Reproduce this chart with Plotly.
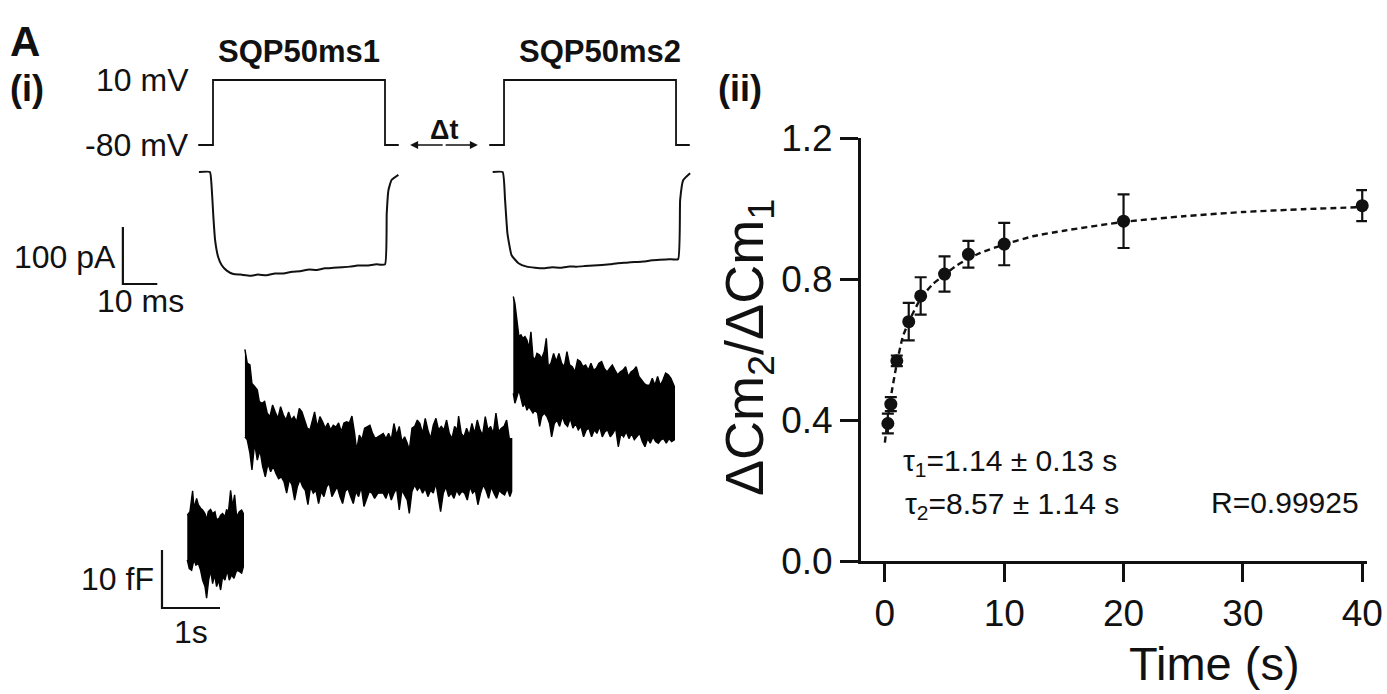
import plotly.graph_objects as go

# ---------------- DATA ----------------
# Panel (ii): recovery of exocytosis
REC_T_S = [0.25, 0.5, 1, 2, 3, 5, 7, 10, 20, 40]
REC_RATIO = [0.39, 0.445, 0.568, 0.679, 0.752, 0.814, 0.870, 0.899, 0.964, 1.008]
REC_SEM = [0.028, 0.02, 0.015, 0.053, 0.053, 0.05, 0.038, 0.06, 0.076, 0.044]
FIT_T_S = [0, 0.25, 0.5, 1, 1.5, 2, 3, 4, 5, 6, 7, 8, 10, 12.5, 15, 20, 25, 30, 35, 40]
FIT_RATIO = [0.336, 0.405, 0.465, 0.56, 0.636, 0.678, 0.745, 0.785, 0.812, 0.838, 0.858,
             0.874, 0.898, 0.922, 0.937, 0.962, 0.978, 0.99, 0.998, 1.004]
X_TICKS = [0, 10, 20, 30, 40]
Y_TICKS = [0.0, 0.4, 0.8, 1.2]
Y_TICK_TEXT = ["0.0", "0.4", "0.8", "1.2"]

# Panel (i): voltage protocol (one 50 ms square pulse)
V_T_MS = [-4.3, 0, 0, 50, 50, 54]
V_MV = [-80, -80, 10, 10, -80, -80]

# Ca2+ current during pulse 1 and pulse 2
I1_T_MS = [-4.1, -0.9, -0.4, 0.1, 0.6, 1.5, 2.5, 4.0, 5.9, 8.0, 10.8, 13.0, 15.6, 18.0, 20.4,
           23.0, 25.3, 28.0, 30.1, 32.5, 35.0, 37.5, 39.8, 42.0, 44.7, 47.5, 50.0, 50.5, 51.0,
           51.9, 53.9]
I1_PA = [0, 0, -26, -78, -119, -149, -163, -173, -179, -180, -182, -180, -181, -178, -178,
         -175, -174, -171, -172, -169, -168, -167, -166, -164, -164, -162, -162, -73, -32,
         -14, -5]
I2_T_MS = [-3.3, -0.4, 0.3, 1.0, 2.2, 4.2, 6.6, 9.0, 11.4, 14.0, 16.3, 18.5, 21.1, 23.5, 26.0,
           28.5, 30.8, 33.0, 35.6, 38.0, 40.5, 43.0, 45.3, 48.0, 50.6, 51.2, 52.1, 54.1]
I2_PA = [0, 0, -49, -108, -146, -160, -166, -168, -169, -167, -168, -166, -166, -165, -164,
         -163, -162, -160, -159, -158, -157, -155, -154, -153, -153, -49, -14, -2]

# Membrane capacitance trace (noise envelope), time in s, Cm in fF
CA_TOP_T = [0, 0.046, 0.092, 0.115, 0.161, 0.190, 0.230, 0.264, 0.305, 0.333, 0.362, 0.402, 0.437,
            0.477, 0.506, 0.552, 0.575, 0.609, 0.649, 0.678, 0.707, 0.747, 0.782, 0.816, 0.851,
            0.897, 0.937, 0.966]
CA_TOP_C = [4.8, 5.4, 9.0, 6.0, 7.7, 6.6, 6.0, 5.7, 5.1, 4.0, 5.4, 5.8, 5.1, 5.4, 4.0, 4.3, 4.8,
            5.1, 4.5, 5.8, 5.1, 9.1, 6.3, 8.3, 4.5, 5.4, 5.7, 5.1]
CA_BOT_T = [0, 0.034, 0.075, 0.115, 0.149, 0.190, 0.230, 0.264, 0.305, 0.333, 0.368, 0.402, 0.437,
            0.471, 0.506, 0.540, 0.575, 0.609, 0.649, 0.690, 0.724, 0.764, 0.805, 0.851, 0.897,
            0.937, 0.966]
CA_BOT_C = [-2.9, -4.4, -4.7, -2.9, -3.8, -3.5, -4.7, -6.4, -7.5, -9.5, -6.4, -4.7, -7.0, -5.5,
            -7.5, -6.4, -8.1, -5.8, -6.4, -4.7, -6.4, -5.5, -6.1, -4.7, -4.9, -5.2, -4.1]

CB_TOP_T = [0.994, 1.034, 1.080, 1.115, 1.161, 1.207, 1.241, 1.287, 1.333, 1.379, 1.425, 1.471,
            1.517, 1.563, 1.609, 1.655, 1.701, 1.747, 1.793, 1.839, 1.885, 1.931, 1.977, 2.023,
            2.069, 2.115, 2.161, 2.195, 2.241, 2.287, 2.333, 2.379, 2.425, 2.471, 2.517, 2.563,
            2.609, 2.655, 2.701, 2.747, 2.793, 2.839, 2.885, 2.920, 2.966, 3.011, 3.057, 3.103,
            3.149, 3.195, 3.241, 3.287,
            3.379, 3.425, 3.471, 3.517, 3.563, 3.609, 3.655, 3.701, 3.747, 3.793, 3.828, 3.874,
            3.920, 3.966, 4.011, 4.057, 4.103, 4.149, 4.195, 4.241, 4.287, 4.333, 4.379, 4.425,
            4.471, 4.517, 4.563, 4.609, 4.655, 4.678, 4.724, 4.770, 4.816, 4.862, 4.908, 4.954,
            5.000, 5.046, 5.092, 5.138, 5.184, 5.230, 5.276, 5.322, 5.368, 5.414, 5.460, 5.506,
            5.552, 5.592]
CB_TOP_C = [33.4, 31.0, 30.7, 27.5, 27.0, 26.4, 24.4, 24.1, 24.4, 22.4, 21.8, 23.8, 22.6, 21.5,
            23.5, 22.1, 21.2, 22.6, 21.2, 21.8, 20.9, 23.2, 22.6, 21.2, 19.8, 19.5, 21.2, 22.6,
            20.0, 21.8, 20.9, 19.8, 20.7, 19.5, 20.3, 20.0, 20.7, 19.2, 20.7, 20.9, 20.7, 21.9,
            18.9, 16.0, 18.6, 17.8, 19.8, 20.0, 20.3, 18.9, 18.0, 18.3,
            18.9, 18.0, 18.9, 17.8, 20.6, 18.6, 20.1, 17.5, 18.3, 17.2, 16.0, 19.8, 20.1, 21.2,
            20.6, 18.9, 21.5, 19.5, 18.0, 20.3, 21.5, 19.5, 20.1, 19.5, 21.2, 18.9, 18.0, 20.1,
            19.5, 21.9, 18.9, 18.3, 19.8, 18.6, 20.6, 18.9, 21.2, 19.5, 18.6, 21.8, 19.5, 20.1,
            18.9, 22.4, 19.2, 19.8, 20.1, 21.2, 18.0, 18.0]
CB_BOT_T = [0.994, 1.034, 1.080, 1.115, 1.161, 1.207, 1.253, 1.299, 1.345, 1.391, 1.437, 1.483,
            1.529, 1.575, 1.621, 1.667, 1.713, 1.759, 1.805, 1.851, 1.897, 1.943, 1.989, 2.034,
            2.080, 2.126, 2.172, 2.218, 2.264, 2.310, 2.356, 2.402, 2.448, 2.494, 2.540, 2.586,
            2.632, 2.678, 2.724, 2.770, 2.816, 2.862, 2.908, 2.954, 3.000, 3.046, 3.092, 3.138,
            3.184, 3.230, 3.287,
            3.379, 3.425, 3.471, 3.517, 3.563, 3.609, 3.655, 3.701, 3.747, 3.793, 3.828, 3.874,
            3.920, 3.966, 4.011, 4.057, 4.103, 4.149, 4.195, 4.241, 4.287, 4.333, 4.368, 4.414,
            4.460, 4.506, 4.552, 4.598, 4.644, 4.690, 4.736, 4.782, 4.828, 4.874, 4.920, 4.966,
            5.011, 5.057, 5.103, 5.149, 5.195, 5.241, 5.287, 5.333, 5.379, 5.425, 5.471, 5.517,
            5.563, 5.592]
CB_BOT_C = [18.3, 17.8, 15.5, 12.6, 17.2, 14.3, 16.0, 13.2, 11.4, 13.7, 12.3, 13.2, 12.0, 11.1,
            11.4, 10.6, 8.6, 10.9, 10.0, 7.4, 9.7, 10.9, 9.7, 9.1, 6.6, 9.7, 8.6, 9.1, 6.8, 8.9,
            8.0, 9.7, 10.3, 8.0, 8.9, 9.7, 8.0, 6.8, 8.9, 9.4, 8.0, 6.8, 8.9, 8.0, 9.7, 6.3, 7.7,
            8.9, 8.6, 7.7, 8.6,
            8.6, 7.7, 9.1, 7.4, 8.6, 9.4, 5.7, 9.1, 8.3, 7.4, 5.1, 8.9, 10.0, 9.1, 9.7, 8.6, 9.4,
            8.0, 9.1, 8.6, 10.3, 7.4, 5.4, 8.6, 9.7, 8.0, 8.6, 7.7, 9.1, 8.3, 8.9, 8.6, 7.4, 9.7,
            8.6, 9.1, 6.6, 8.6, 10.0, 9.1, 7.7, 9.7, 8.6, 7.7, 9.1, 8.6, 8.3, 9.4, 8.0, 8.9]

CC_TOP_T = [5.621, 5.649, 5.684, 5.718, 5.753, 5.787, 5.822, 5.856, 5.891, 5.925, 5.960, 5.994,
            6.029, 6.075, 6.109, 6.155, 6.190, 6.224, 6.270, 6.316, 6.362, 6.408, 6.454, 6.500,
            6.546, 6.592, 6.638, 6.684, 6.730, 6.776, 6.822, 6.868, 6.914, 6.960, 7.006, 7.052,
            7.098, 7.144, 7.190, 7.236, 7.282, 7.328, 7.374, 7.420, 7.466, 7.511, 7.557, 7.603,
            7.649, 7.695, 7.741, 7.787, 7.833, 7.879, 7.925, 7.971, 8.017, 8.063, 8.109, 8.155,
            8.201, 8.247, 8.293, 8.339, 8.397]
CC_TOP_C = [42.5, 41.3, 38.4, 35.6, 35.9, 35.3, 35.6, 35.0, 33.6, 36.4, 32.1, 31.6, 32.7, 32.4,
            31.8, 33.0, 35.3, 30.4, 31.0, 32.7, 31.3, 32.7, 31.0, 30.4, 33.0, 30.7, 30.4, 29.5,
            31.6, 31.3, 30.4, 30.7, 29.8, 31.0, 29.8, 30.1, 31.0, 31.3, 30.1, 29.5, 30.1, 30.7,
            29.8, 29.0, 29.5, 29.8, 30.4, 28.7, 29.5, 29.8, 30.4, 28.7, 28.1, 27.5, 27.2, 27.2,
            28.4, 27.2, 28.7, 27.2, 28.1, 29.3, 29.0, 28.4, 27.0]
CC_BOT_T = [5.621, 5.649, 5.684, 5.718, 5.753, 5.787, 5.822, 5.856, 5.891, 5.925, 5.960, 5.994,
            6.040, 6.075, 6.109, 6.155, 6.201, 6.247, 6.282, 6.328, 6.374, 6.420, 6.466, 6.511,
            6.557, 6.603, 6.649, 6.695, 6.741, 6.787, 6.833, 6.879, 6.925, 6.971, 7.017, 7.063,
            7.109, 7.155, 7.201, 7.247, 7.293, 7.339, 7.385, 7.431, 7.477, 7.523, 7.569, 7.615,
            7.661, 7.707, 7.753, 7.799, 7.845, 7.891, 7.937, 7.983, 8.029, 8.075, 8.121, 8.167,
            8.213, 8.259, 8.305, 8.351, 8.397]
CC_BOT_C = [25.8, 24.1, 25.2, 26.4, 24.7, 23.5, 24.1, 22.9, 23.5, 22.9, 22.4, 22.9, 22.4, 20.1,
            21.8, 22.4, 21.8, 20.6, 18.3, 20.6, 21.2, 20.1, 21.8, 20.6, 20.1, 21.5, 19.8, 20.6,
            19.5, 20.1, 18.3, 19.5, 19.8, 18.3, 19.5, 18.9, 20.1, 18.3, 19.2, 19.5, 18.3, 18.9,
            19.8, 16.6, 18.9, 18.3, 19.2, 18.0, 18.9, 17.8, 18.3, 18.9, 17.5, 16.6, 18.0, 17.2,
            18.3, 17.5, 17.2, 17.8, 18.0, 17.2, 18.0, 17.5, 17.8]

# Scale bars
SB_CURRENT_PA = 100
SB_TIME_MS = 10
SB_CAP_FF = 10
SB_TIME_S = 1

# ---------------- LAYOUT CONSTANTS ----------------
W, H = 1387, 694
FONT = "Liberation Sans, Arial, sans-serif"
INK = "#111111"
PULSE2_OFFSET_MS = 84.6
SB_I_ANCHOR = (-26.2, -196.5)    # (ms, pA)
SB_C_ANCHOR = (-0.436, -11.2)    # (s, fF)


def px_x(p):
    return p / W


def px_y(p):
    return 1 - p / H


fig = go.Figure()

# ---- Panel (ii) ----
fig.add_trace(go.Scatter(
    x=FIT_T_S, y=FIT_RATIO, mode="lines",
    line=dict(color=INK, width=2.4, dash="6px,4px", shape="spline", smoothing=0.5),
    xaxis="x", yaxis="y", showlegend=False, hoverinfo="skip"))
fig.add_trace(go.Scatter(
    x=REC_T_S, y=REC_RATIO, mode="markers",
    marker=dict(color=INK, size=13),
    error_y=dict(type="data", array=REC_SEM, color=INK, thickness=2.2, width=6),
    xaxis="x", yaxis="y", showlegend=False, cliponaxis=False))

# ---- Panel (i): voltage protocol ----
for off in (0, PULSE2_OFFSET_MS):
    fig.add_trace(go.Scatter(
        x=[t + off for t in V_T_MS], y=V_MV, mode="lines",
        line=dict(color=INK, width=1.8), xaxis="x2", yaxis="y2",
        showlegend=False, hoverinfo="skip"))

# currents
fig.add_trace(go.Scatter(x=I1_T_MS, y=I1_PA, mode="lines",
                         line=dict(color=INK, width=2, shape="spline", smoothing=0.4),
                         xaxis="x2", yaxis="y3", showlegend=False, hoverinfo="skip"))
fig.add_trace(go.Scatter(x=[t + PULSE2_OFFSET_MS for t in I2_T_MS], y=I2_PA, mode="lines",
                         line=dict(color=INK, width=2, shape="spline", smoothing=0.4),
                         xaxis="x2", yaxis="y3", showlegend=False, hoverinfo="skip"))
# current scale bar
ax0, ay0 = SB_I_ANCHOR
fig.add_trace(go.Scatter(x=[ax0, ax0, ax0 + SB_TIME_MS], y=[ay0 + SB_CURRENT_PA, ay0, ay0],
                         mode="lines", line=dict(color=INK, width=2.2),
                         xaxis="x2", yaxis="y3", showlegend=False, hoverinfo="skip"))

# capacitance segments (filled noise envelope)
for tt, tc, bt, bc in ((CA_TOP_T, CA_TOP_C, CA_BOT_T, CA_BOT_C),
                       (CB_TOP_T, CB_TOP_C, CB_BOT_T, CB_BOT_C),
                       (CC_TOP_T, CC_TOP_C, CC_BOT_T, CC_BOT_C)):
    fig.add_trace(go.Scatter(
        x=list(tt) + list(bt)[::-1], y=list(tc) + list(bc)[::-1],
        mode="lines", fill="toself", fillcolor="black",
        line=dict(color="black", width=1.4),
        xaxis="x3", yaxis="y4", showlegend=False, hoverinfo="skip"))
cx0, cy0 = SB_C_ANCHOR
fig.add_trace(go.Scatter(x=[cx0, cx0, cx0 + SB_TIME_S], y=[cy0 + SB_CAP_FF, cy0, cy0],
                         mode="lines", line=dict(color=INK, width=2.2),
                         xaxis="x3", yaxis="y4", showlegend=False, hoverinfo="skip"))

hidden = dict(visible=False, showgrid=False, zeroline=False, fixedrange=True, automargin=False)
axis_style = dict(showline=True, linecolor=INK, linewidth=3, ticks="outside", ticklen=18,
                  tickwidth=3, tickcolor=INK, showgrid=False, zeroline=False, automargin=False,
                  tickfont=dict(family=FONT, size=37, color=INK))

fig.update_layout(
    width=W, height=H, autosize=False,
    margin=dict(l=0, r=0, t=0, b=0, pad=0, autoexpand=False),
    paper_bgcolor="white", plot_bgcolor="rgba(0,0,0,0)", showlegend=False,
    font=dict(family=FONT, color=INK),
    xaxis=dict(domain=[px_x(861), px_x(1367)], range=[-2, 40.4], tickvals=X_TICKS,
               anchor="y", **axis_style),
    yaxis=dict(domain=[px_y(561), px_y(138)], range=[0, 1.2], tickvals=Y_TICKS,
               ticktext=Y_TICK_TEXT, anchor="x", **axis_style),
    xaxis2=dict(domain=[0, px_x(700)], range=[-61.92, 141.57], anchor="y2", **hidden),
    yaxis2=dict(domain=[0, 1], range=[-840.2, 120.8], anchor="x2", **hidden),
    yaxis3=dict(domain=[0, 1], range=[-915.8, 301.8], anchor="x2", overlaying="y2", **hidden),
    xaxis3=dict(domain=[0, px_x(700)], range=[-3.229, 8.84], anchor="y4", **hidden),
    yaxis4=dict(domain=[0, 1], range=[-26.03, 93.62], anchor="x3", **hidden),
)

ann = []


def text(x, y, s, size, xanchor="center", yanchor="middle", bold=False, xref="paper",
         yref="paper", angle=0):
    ann.append(dict(x=x, y=y, xref=xref, yref=yref, text=(f"<b>{s}</b>" if bold else s),
                    showarrow=False, xanchor=xanchor, yanchor=yanchor, textangle=angle,
                    font=dict(family=FONT, size=size, color=INK)))


# panel labels
text(px_x(8), px_y(42), "A", 42, xanchor="left", bold=True)
text(px_x(8), px_y(88), "(i)", 36, xanchor="left", bold=True)
text(px_x(716), px_y(88), "(ii)", 36, xanchor="left", bold=True)

# panel (i) texts
text(25, px_y(52), "SQP50ms1", 31, bold=True, xref="x2")
text(25 + PULSE2_OFFSET_MS + 3, px_y(52), "SQP50ms2", 31, bold=True, xref="x2")
text(-6.5, 10, "10 mV", 32, xanchor="right", xref="x2", yref="y2")
text(-6.5, -80, "-80 mV", 32, xanchor="right", xref="x2", yref="y2")
text(67.2, -59, "Δt", 27, bold=True, xref="x2", yref="y2")
text(ax0 - 1.3, ay0 + SB_CURRENT_PA * 0.47, "100 pA", 32, xanchor="right", xref="x2", yref="y3")
text(ax0 + SB_TIME_MS / 2, ay0 - 30, "10 ms", 32, xref="x2", yref="y3")
text(cx0 - 0.1, cy0 + SB_CAP_FF * 0.5, "10 fF", 32, xanchor="right", xref="x3", yref="y4")
text(cx0 + SB_TIME_S / 2, cy0 - 4.2, "1s", 32, xref="x3", yref="y4")

# Δt double arrow
for end in (57.3, 77.0):
    ann.append(dict(x=end, y=-80, ax=67.2, ay=-80, xref="x2", yref="y2", axref="x2",
                    ayref="y2", text="", showarrow=True, arrowhead=2, arrowsize=1,
                    arrowwidth=1.6, arrowcolor=INK))

# panel (ii) texts
text(px_x(748), px_y(348), "ΔCm<sub>2</sub>/ΔCm<sub>1</sub>", 54, angle=-90)
text(px_x(1214), px_y(663), "Time (s)", 47)
text(px_x(901), px_y(462), "τ<sub>1</sub>=1.14 ± 0.13 s", 30, xanchor="left")
text(px_x(903), px_y(505), "τ<sub>2</sub>=8.57 ± 1.14 s", 30, xanchor="left")
text(px_x(1361), px_y(503), "R=0.99925", 30, xanchor="right")

fig.update_layout(annotations=ann)
fig.write_html(
    "out.html",
    config={"displayModeBar": False, "staticPlot": True},
    post_script="document.body.style.margin='0';document.body.style.overflow='hidden';")
